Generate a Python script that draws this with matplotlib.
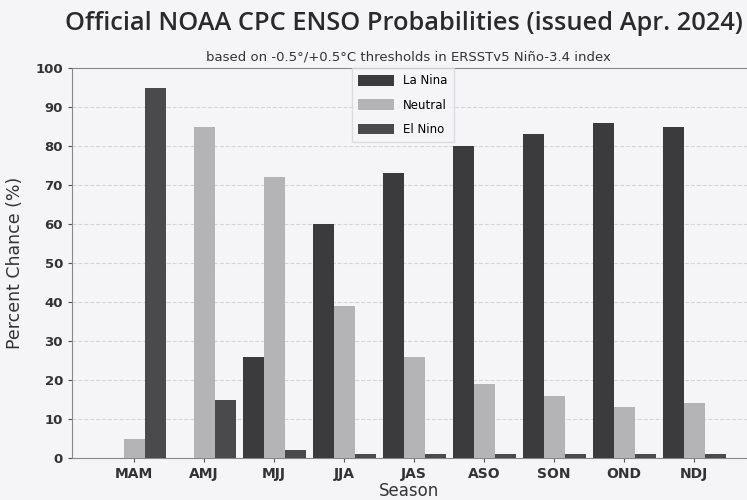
import numpy as np
import matplotlib
matplotlib.use("Agg")
import matplotlib.pyplot as plt

plt.rcParams['font.family'] = ['DejaVu Sans']

# season labels and probabilities (%)
seasons = ['MAM', 'AMJ', 'MJJ', 'JJA', 'JAS', 'ASO', 'SON', 'OND', 'NDJ']
la_nina = [0, 0, 26, 60, 73, 80, 83, 86, 85]
neutral = [5, 85, 72, 39, 26, 19, 16, 13, 14]
el_nino = [95, 15, 2, 1, 1, 1, 1, 1, 1]

bg = '#f5f5f8'
fig = plt.figure(figsize=(7.47, 5.0), dpi=100, facecolor=bg)
ax = fig.add_axes([72 / 747, 1 - 458 / 500, 675 / 747, 390 / 500], facecolor=bg)

x = np.arange(len(seasons))
w = 0.3
ax.bar(x - w, la_nina, w, color='#3b3b3d', label='La Nina', zorder=3)
ax.bar(x, neutral, w, color='#b4b4b6', label='Neutral', zorder=3)
ax.bar(x + w, el_nino, w, color='#4a4a4c', label='El Nino', zorder=3)

ax.set_xlim(-0.886, 8.757)
ax.set_ylim(0, 100)
ax.set_yticks(range(0, 101, 10))
ax.set_xticks(x)
ax.set_xticklabels(seasons, fontsize=10, color='#333333', fontweight='semibold')
for t in ax.get_yticklabels():
    t.set_fontweight('semibold')
ax.tick_params(axis='y', labelsize=9.5, colors='#555555', labelcolor='#333333', length=3)
ax.tick_params(axis='x', length=3, colors='#555555', labelcolor='#333333')
ax.grid(axis='y', linestyle='--', color='#d6d6da', linewidth=0.8, zorder=0)
for s in ['left', 'bottom', 'top']:
    ax.spines[s].set_color('#888888')
ax.spines['right'].set_visible(False)

ax.set_xlabel('Season', fontsize=12, color='#333333', labelpad=1)
ax.set_ylabel('Percent Chance (%)', fontsize=12.5, color='#333333', labelpad=8)

fig.text(404 / 747, 1 - 23 / 500, 'Official NOAA CPC ENSO Probabilities (issued Apr. 2024)',
         ha='center', va='center', fontsize=18.3, fontweight='semibold',
         family=['Open Sans', 'DejaVu Sans'], color='#2a2a2a')
fig.text(408 / 747, 1 - 57 / 500, 'based on -0.5\u00b0/+0.5\u00b0C thresholds in ERSSTv5 Ni\u00f1o-3.4 index',
         ha='center', va='center', fontsize=9.5, color='#333333')

leg = ax.legend(loc='upper left', bbox_to_anchor=(352 / 747, 1 - 68 / 500),
                bbox_transform=fig.transFigure, fontsize=8.5, frameon=True,
                handlelength=3.0, handleheight=1.0, labelspacing=0.95,
                borderpad=0.55, borderaxespad=0, fancybox=False)
leg.get_frame().set_facecolor(bg)
leg.get_frame().set_edgecolor('#d6d6da')

fig.savefig('out.png', dpi=100, facecolor=bg)
